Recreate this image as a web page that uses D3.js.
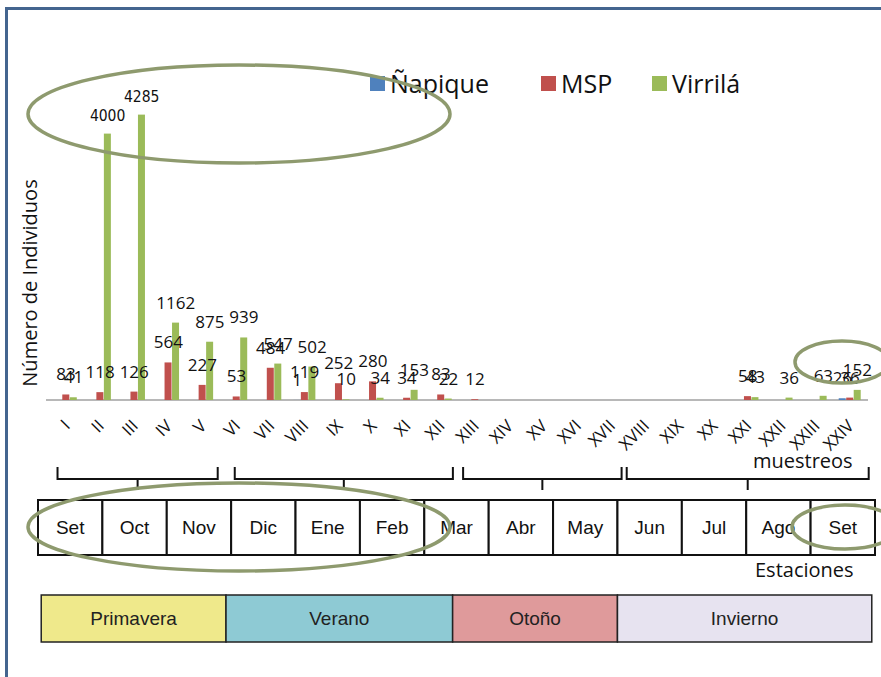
<!DOCTYPE html>
<html><head><meta charset="utf-8">
<script src="https://cdn.jsdelivr.net/npm/d3@7"></script>
<style>body{margin:0;background:#fff}svg{display:block}</style>
</head><body>
<svg id="c" width="881" height="677"></svg>
<script>
const categories = ["I","II","III","IV","V","VI","VII","VIII","IX","X","XI","XII","XIII","XIV","XV","XVI","XVII","XVIII","XIX","XX","XXI","XXII","XXIII","XXIV"];
const seriesNames = ["Ñapique","MSP","Virrilá"];
const napique = [0,0,0,0,0,0,0,1,0,0,0,0,0,0,0,0,0,0,0,0,0,0,0,26];
const msp     = [83,118,126,564,227,53,484,119,252,280,34,83,12,0,0,0,0,0,0,0,58,0,0,36];
const virrila = [41,4000,4285,1162,875,939,547,502,10,34,153,22,0,0,0,0,0,0,0,0,43,36,63,152];
const months = ["Set","Oct","Nov","Dic","Ene","Feb","Mar","Abr","May","Jun","Jul","Ago","Set"];
const seasons = ["Primavera","Verano","Otoño","Invierno"];
const seasonBounds = [0.05, 2.92, 6.44, 9.0, 12.95]; // in month units
const bracketSpans = [[-0.25,4.45],[4.95,11.35],[11.65,16.3],[16.45,23.55]]; // in sampling units

const colors = {"Ñapique":"#4f81bd","MSP":"#c0504d","Virrilá":"#9bbb59"};
const seasonColors = ["#efe98b","#8ecad4","#df9a9b","#e7e3f0"];

const svg = d3.select("#c");

// frame
svg.append("rect").attr("x",6.5).attr("y",8.5).attr("width",900).attr("height",700)
  .attr("fill","none").attr("stroke","#44658f").attr("stroke-width",3);

const x0 = d3.scaleBand().domain(categories).range([49,867]).paddingInner(0.34).paddingOuter(0.17);
const x1 = d3.scaleBand().domain(seriesNames).range([0,x0.bandwidth()]);
const y = d3.scaleLinear().domain([0,5000]).range([400,67]);
const xi = d3.scaleLinear().domain([0,1]).range([x0("I")+x0.bandwidth()/2, x0("II")+x0.bandwidth()/2]);

const data = categories.map((c,i)=>({cat:c, vals:[napique[i],msp[i],virrila[i]]}));

// baseline
svg.append("line").attr("x1",46).attr("x2",868).attr("y1",y(0)).attr("y2",y(0))
  .attr("stroke","#a0a0a0").attr("stroke-width",1.5);

const g = svg.append("g");
const groups = g.selectAll("g.cat").data(data).join("g").attr("transform",d=>`translate(${x0(d.cat)},0)`);
groups.selectAll("rect").data(d=>d.vals.map((v,k)=>({s:seriesNames[k],v})).filter(e=>e.v>0)).join("rect")
  .attr("x",e=>x1(e.s)).attr("width",x1.bandwidth()-0.5)
  .attr("y",e=>y(e.v)).attr("height",e=>y(0)-y(e.v)).attr("fill",e=>colors[e.s]);
groups.selectAll("text").data(d=>d.vals.map((v,k)=>({s:seriesNames[k],v})).filter(e=>e.v>0)).join("text")
  .attr("x",e=>x1(e.s)+x1.bandwidth()/2).attr("y",e=>y(e.v)-(e.v>=4000?13:14))
  .attr("text-anchor","middle")
  .style("font-family",e=>e.v>=4000?"'Liberation Sans Narrow','DejaVu Sans Condensed',sans-serif":"'Open Sans',sans-serif")
  .style("font-size",e=>e.v>=4000?"15.5px":"17px").attr("fill","#111")
  .text(e=>e.v);

// category labels
svg.append("g").selectAll("text").data(categories).join("text")
  .attr("transform",c=>`translate(${x0(c)+x0.bandwidth()/2+5},427) rotate(-45)`)
  .attr("text-anchor","end").style("font-family","'Open Sans',sans-serif").style("font-size","17px")
  .attr("fill","#111").text(c=>c);

// y title
svg.append("text").attr("transform","translate(37,283) rotate(-90)").attr("text-anchor","middle")
  .style("font-family","'Open Sans',sans-serif").style("font-size","20px").attr("fill","#111")
  .text("Número de Individuos");

// legend
const legX = [370,541,652];
const leg = svg.append("g").selectAll("g").data(seriesNames).join("g")
  .attr("transform",(s,i)=>`translate(${legX[i]},84)`);
leg.append("rect").attr("x",0).attr("y",-8).attr("width",15).attr("height",15).attr("fill",s=>colors[s]);
leg.append("text").attr("x",20).attr("y",9).style("font-family","'Open Sans',sans-serif")
  .style("font-size","25px").attr("fill","#111").text(s=>s);

// brackets
const bg = svg.append("g").attr("stroke","#111").attr("stroke-width",2).attr("fill","none");
bracketSpans.forEach(([a,b])=>{
  const xa = xi(a), xb = xi(b), xm=(xa+xb)/2;
  bg.append("path").attr("d",`M${xa},467 V479 H${xb} V467 M${xm},479 V490`);
});
svg.append("text").attr("x",753).attr("y",468).style("font-family","'Open Sans',sans-serif")
  .style("font-size","20px").attr("fill","#111").text("muestreos");

// month table
const xm = d3.scaleLinear().domain([0,13]).range([38,875]);
const mt = svg.append("g");
mt.selectAll("rect").data(months).join("rect")
  .attr("x",(m,i)=>xm(i)).attr("y",500).attr("width",xm(1)-xm(0)).attr("height",55)
  .attr("fill","#fff").attr("stroke","#111").attr("stroke-width",2);
mt.selectAll("text").data(months).join("text")
  .attr("x",(m,i)=>xm(i+0.5)).attr("y",534).attr("text-anchor","middle")
  .style("font-family","'Liberation Sans',Arial,sans-serif").style("font-size","19px").attr("fill","#111")
  .text(m=>m);

svg.append("text").attr("x",755).attr("y",577).style("font-family","'Open Sans',sans-serif")
  .style("font-size","20px").attr("fill","#111").text("Estaciones");

// seasons
const sg = svg.append("g");
sg.selectAll("rect").data(seasons).join("rect")
  .attr("x",(s,i)=>xm(seasonBounds[i])).attr("width",(s,i)=>xm(seasonBounds[i+1])-xm(seasonBounds[i]))
  .attr("y",595).attr("height",47).attr("fill",(s,i)=>seasonColors[i]).attr("stroke","#222").attr("stroke-width",1.5);
sg.selectAll("text").data(seasons).join("text")
  .attr("x",(s,i)=>(xm(seasonBounds[i])+xm(seasonBounds[i+1]))/2).attr("y",625).attr("text-anchor","middle")
  .style("font-family","'Liberation Sans',Arial,sans-serif").style("font-size","19px").attr("fill","#222")
  .text(s=>s);

// highlight ellipses
const ell = [[239,114,211,49],[842,362,47,21],[239,527,211,44],[845,527,53,22]];
svg.append("g").selectAll("ellipse").data(ell).join("ellipse")
  .attr("cx",d=>d[0]).attr("cy",d=>d[1]).attr("rx",d=>d[2]).attr("ry",d=>d[3])
  .attr("fill","none").attr("stroke","#8e9a6e").attr("stroke-width",3.5);
</script>
</body></html>
